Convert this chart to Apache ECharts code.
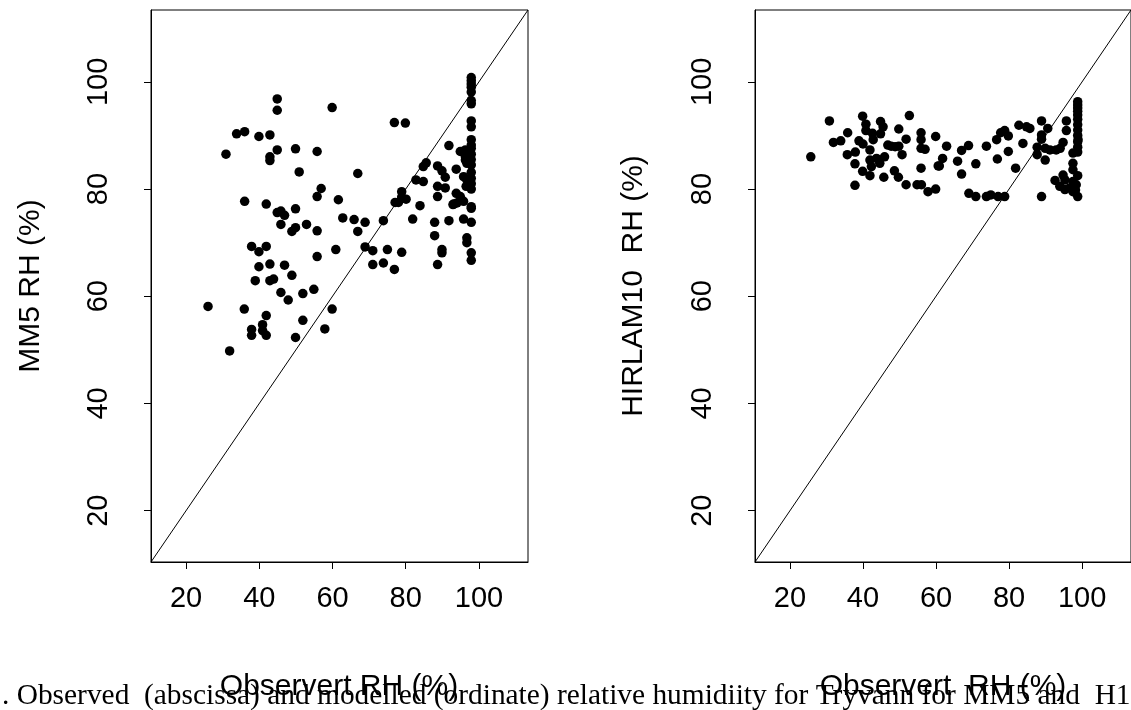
<!DOCTYPE html>
<html>
<head>
<meta charset="utf-8">
<script src="https://cdn.jsdelivr.net/npm/echarts@6/dist/echarts.min.js"></script>
<style>
html,body{margin:0;padding:0;background:#fff;}
#chart{width:1131px;height:710px;}
</style>
</head>
<body>
<div id="chart"></div>
<script>
// ---- Data ----
const tickValues = [20, 40, 60, 80, 100];
const axisMin = 10.42;
const axisMax = 113.4;

// Left panel: observed RH vs MM5 modelled RH
const mm5Observed = [44.9,44.9,59.9,33.8,36.0,39.9,42.9,30.9,44.9,42.9,42.9,49.9,55.8,50.9,56.9,55.8,61.6,36.0,41.9,45.9,49.9,
  44.9,46.9,45.9,48.9,49.9,52.9,55.8,60.9,55.8,37.9,39.9,41.9,39.9,42.9,46.9,48.9,38.9,42.9,43.9,45.9,47.9,51.9,54.9,26.0,35.9,41.9,59.9,51.9,37.9,40.9,40.9,37.9,41.9,57.9,49.9,31.9,
  66.9,76.9,79.9,
  97.9,97.9,97.9,97.9,97.9,97.9,97.9,97.9,97.9,97.9,97.9,97.9,
  91.8,94.9,96.3,96.3,96.3,96.7,85.6,84.8,88.7,89.9,90.8,93.8,95.8,96.7,97.9,97.9,82.8,84.8,88.7,90.8,88.7,78.9,78.9,77.1,78.0,80.1,83.9,93.8,94.9,93.1,97.9,
  92.9,94.0,95.8,97.9,62.8,65.9,68.9,66.9,73.9,81.9,87.9,91.8,95.8,97.9,87.9,96.7,96.7,68.9,71.0,75.0,78.9,89.9,89.9,97.9,97.9,71.0,73.9,76.9,88.7,
  97.9,97.9,97.9,97.9,97.9,96.5];
const mm5Modelled = [96.8,94.7,95.2,90.3,90.7,89.8,90.1,86.5,87.3,86.0,85.3,87.5,87.0,83.2,80.1,78.6,78.0,77.7,77.2,75.9,76.3,
  75.6,75.1,73.4,72.1,72.8,73.4,72.2,68.7,67.4,69.3,68.3,69.3,65.5,66.0,65.8,63.9,62.9,62.9,63.2,60.7,59.3,60.5,61.3,58.1,57.6,56.4,57.6,55.5,53.8,54.7,53.6,52.7,52.7,53.9,52.3,49.8,
  82.9,92.4,92.3,
  100.8,100.2,99.6,99.0,98.1,96.5,95.9,92.7,91.6,89.2,88.2,87.6,
  88.1,87.0,87.3,86.0,85.4,84.8,84.9,84.2,84.3,83.4,82.2,83.7,82.3,81.7,83.1,80.0,81.7,81.4,80.5,80.2,78.6,79.5,78.5,77.5,77.5,78.1,76.9,79.2,78.6,77.2,76.7,
  77.1,77.4,77.7,76.4,74.6,74.3,73.8,72.1,74.1,74.4,73.8,74.1,74.4,73.8,71.3,70.9,70.0,69.2,68.5,68.7,68.2,68.7,68.1,68.1,66.7,65.9,66.2,65.0,65.9,
  86.5,85.5,84.5,82.0,81.0,80.5];

// Right panel: observed RH vs HIRLAM10 modelled RH
const hirObserved = [25.7,30.8,31.9,33.9,35.8,35.7,37.9,37.8,37.8,38.9,39.9,40.0,40.8,40.8,41.9,42.6,42.8,41.9,42.3,39.9,41.9,43.7,44.6,44.8,45.5,44.8,45.9,45.7,46.8,47.7,48.8,49.8,49.8,50.7,48.6,49.7,51.8,51.8,52.7,54.8,56.0,57.8,59.9,55.9,55.9,55.9,57.0,55.9,59.9,60.6,
  62.9,61.8,60.9,65.9,67.0,68.9,70.9,67.0,73.8,76.6,77.7,78.8,79.8,76.8,79.8,81.8,83.8,82.7,84.8,85.7,88.9,90.6,88.9,88.9,87.7,87.7,89.9,89.9,91.2,92.9,94.0,94.8,95.7,95.7,
  98.8,98.8,98.8,98.8,98.8,98.8,98.8,98.8,98.8,98.8,98.8,98.8,
  97.5,98.9,97.5,94.8,92.6,95.3,97.5,98.4,93.9,95.3,97.5,98.8,88.9,69.0,70.9,73.8,75.0,77.0,78.8,
  98.8,97.5,96.6,98.2];
const hirModelled = [86.0,92.7,88.7,89.0,90.5,86.4,86.9,84.7,80.7,89.0,93.6,88.4,92.1,90.9,87.3,90.4,89.2,85.4,84.2,83.3,82.5,85.7,84.8,92.6,91.6,90.3,86.0,82.2,88.2,88.0,87.9,91.2,88.0,86.4,83.4,82.2,80.8,89.3,93.7,80.8,80.8,79.5,80.0,90.5,89.2,87.6,87.4,83.9,89.8,84.3,
  88.0,85.7,84.3,85.2,87.2,88.1,84.7,82.8,88.0,89.2,90.5,90.9,89.9,85.6,87.0,83.9,88.5,91.9,91.6,91.3,92.7,91.3,90.1,89.3,87.8,86.4,85.4,87.6,87.3,87.3,87.6,88.7,92.7,90.9,
  96.3,95.7,95.1,94.5,93.8,93.0,92.0,91.0,90.0,88.8,87.8,86.9,
  86.7,89.2,83.6,82.6,81.6,81.7,81.4,80.8,80.5,79.9,79.5,78.6,78.6,79.2,78.6,78.6,78.9,78.6,78.6,
  82.5,84.8,80.2,79.8];

const yTitles = ['MM5 RH (%)', 'HIRLAM10  RH (%)'];
const xTitles = ['Observert RH (%)', 'Observert  RH (%)'];
const caption = '. Observed  (abscissa) and modelled (ordinate) relative humidiity for Tryvann for MM5 and  H1';

// ---- Chart ----
const FONT = "'Liberation Sans', Arial, sans-serif";
const TICK_FS = 29;
const TITLE_FS = 30;
const chart = echarts.init(document.getElementById('chart'), null, {renderer: 'canvas'});

function pairs(xs, ys) { return xs.map((x, i) => [x, ys[i]]); }

const grids = [
  {left: 151, top: 10, width: 377, height: 552},
  {left: 755, top: 10, width: 377, height: 552}
];

function xAxisFor(i) {
  return {
    type: 'value', gridIndex: i, min: axisMin, max: axisMax,
    splitLine: {show: false},
    axisLine: {show: true, onZero: false, lineStyle: {color: '#000', width: 1}},
    axisTick: {show: true, customValues: tickValues, length: 7, lineStyle: {color: '#000', width: 1}},
    axisLabel: {show: true, customValues: tickValues, color: '#000', fontFamily: FONT, fontSize: TICK_FS, margin: 22}
  };
}
function yAxisFor(i) {
  return {
    type: 'value', gridIndex: i, min: axisMin, max: axisMax,
    splitLine: {show: false},
    axisLine: {show: true, onZero: false, lineStyle: {color: '#000', width: 1}},
    axisTick: {show: true, customValues: tickValues, length: 7, lineStyle: {color: '#000', width: 1}},
    axisLabel: {show: true, customValues: tickValues, rotate: 90, color: '#000', fontFamily: FONT, fontSize: TICK_FS, margin: 38}
  };
}

const diag = [[axisMin, axisMin], [axisMax, axisMax]];

const option = {
  backgroundColor: '#fff',
  animation: false,
  grid: grids.map(g => Object.assign({show: true, borderColor: '#000', borderWidth: 1, backgroundColor: 'transparent'}, g)),
  xAxis: [xAxisFor(0), xAxisFor(1)],
  yAxis: [yAxisFor(0), yAxisFor(1)],
  series: [
    {type: 'line', xAxisIndex: 0, yAxisIndex: 0, data: diag, symbol: 'none', lineStyle: {color: '#000', width: 1}, silent: true},
    {type: 'line', xAxisIndex: 1, yAxisIndex: 1, data: diag, symbol: 'none', lineStyle: {color: '#000', width: 1}, silent: true},
    {type: 'scatter', xAxisIndex: 0, yAxisIndex: 0, data: pairs(mm5Observed, mm5Modelled), symbol: 'circle', symbolSize: 9.5, itemStyle: {color: '#000', opacity: 1}},
    {type: 'scatter', xAxisIndex: 1, yAxisIndex: 1, data: pairs(hirObserved, hirModelled), symbol: 'circle', symbolSize: 9.5, itemStyle: {color: '#000', opacity: 1}}
  ],
  graphic: [
    {type: 'text', x: 31, y: 286, rotation: Math.PI / 2, style: {text: yTitles[0], font: TITLE_FS + 'px ' + FONT, fill: '#000', align: 'center', verticalAlign: 'middle'}},
    {type: 'text', x: 634, y: 286, rotation: Math.PI / 2, style: {text: yTitles[1], font: TITLE_FS + 'px ' + FONT, fill: '#000', align: 'center', verticalAlign: 'middle'}},
    {type: 'text', x: 339, y: 687, style: {text: xTitles[0], font: TITLE_FS + 'px ' + FONT, fill: '#000', align: 'center', verticalAlign: 'middle'}},
    {type: 'text', x: 943, y: 687, style: {text: xTitles[1], font: TITLE_FS + 'px ' + FONT, fill: '#000', align: 'center', verticalAlign: 'middle'}},
    {type: 'text', x: 2, y: 696, style: {text: caption, font: "29.4px 'Liberation Serif', 'Times New Roman', serif", fill: '#000', align: 'left', verticalAlign: 'middle'}}
  ]
};
chart.setOption(option);
</script>
</body>
</html>
